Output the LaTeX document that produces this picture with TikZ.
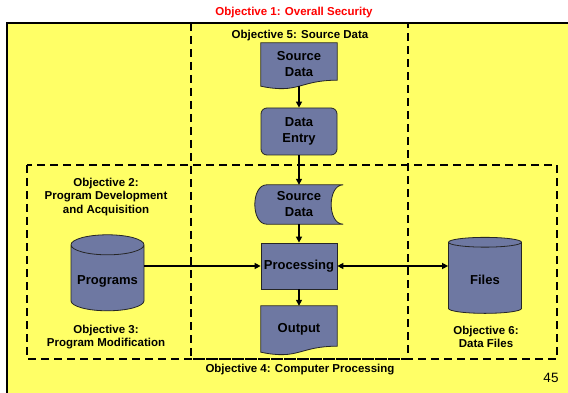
\documentclass[tikz,border=0pt]{standalone}
\usepackage{fontspec}
\setmainfont{Liberation Sans}
\usepackage{tikz}
\usetikzlibrary{shapes.geometric, calc, arrows.meta, positioning, backgrounds}
\usepackage{xcolor}
\definecolor{slideyellow}{RGB}{255,255,102}
\definecolor{boxblue}{RGB}{110,120,162}
\definecolor{titlered}{RGB}{255,0,0}

\begin{document}
\begin{tikzpicture}[x=1pt, y=-1pt,
    objtext/.style={font=\fontsize{11.5}{13.5}\selectfont\bfseries, align=center, inner sep=0pt},
    boxtext/.style={font=\fontsize{13}{16}\selectfont\bfseries, align=center, inner sep=0pt, minimum width=76pt},
    boxshape/.style={fill=boxblue, draw=black!85, line width=0.8pt},
    procbox/.style={boxtext, boxshape, minimum height=46pt},
    entrybox/.style={procbox, rounded corners=6pt, minimum height=47pt},
    docbox/.style={boxtext, minimum height=43pt},
    storebox/.style={boxtext, minimum width=88pt, minimum height=39pt},
    drum/.style={boxtext, boxshape, cylinder, shape border rotate=90, aspect=0.33, minimum width=73pt, minimum height=76pt, text height=13pt, text depth=0pt},
    zone/.style={dash pattern=on 8pt off 5pt, line width=2.6pt},
    flow/.style={line width=2pt, -{Triangle[length=6pt,width=6pt]}},
    twoway/.style={line width=2pt, {Triangle[length=6pt,width=6pt]}-{Triangle[length=6pt,width=6pt]}}
  ]
  \useasboundingbox (0,0) rectangle (568,393);

  % objective labels
  \node[objtext, text=titlered] (obj1) at (294,13) {Objective 1: Overall Security};
  \node[objtext] (obj5) at (300,36) {Objective 5: Source Data};
  \node[objtext] (obj2) at (106,197) {Objective 2:\\Program Development\\and Acquisition};
  \node[objtext] (obj3) at (106,337) {Objective 3:\\Program Modification};
  \node[objtext] (obj6) at (486,337) {Objective 6:\\Data Files};
  \node[objtext] (obj4) at (300,370) {Objective 4: Computer Processing};
  \node[font=\fontsize{13.5}{16}\selectfont, inner sep=0pt] (page) at (551,378) {45};

  % the flow down the middle
  \node[docbox] (src) at (299,64.5) {Source\\Data};
  \node[entrybox] (entry) at (299,131.5) {Data\\Entry};
  \node[storebox] (stored) at (299,204.5) {Source\\Data};
  \node[procbox] (proc) at (299,266) {Processing};
  \node[docbox, minimum height=46pt] (out) at (299,329) {Output};

  % programs and files on the sides
  \node[drum] (prog) at (107.5,278) {Programs};
  \node[drum] (files) at (485,278) {Files};

  \draw[flow] (src) -- (entry);
  \draw[flow] (entry) -- (stored);
  \draw[flow] (stored) -- (proc);
  \draw[flow] (proc) -- (out);
  \draw[flow] (prog.east |- proc.west) -- (proc.west);
  \draw[twoway] (proc.east) -- (files.west |- proc.east);

  \begin{scope}[on background layer]
    \fill[white] (0,0) rectangle (568,393);
    \draw[fill=slideyellow, line width=2pt] (7,23) rectangle (620,430);
    % dashed zones
    \draw[zone] (191,23) rectangle (408,359);
    \draw[zone] (27,165) rectangle (557,359);
    % document shapes with a wavy bottom
    \draw[boxshape] (src.north west) -- (src.north east) -- ($(src.south east)+(0,-6)$)
      .. controls ($(src.south)+(0,-6)$) and ($(src.south)+(0,8)$) .. (src.south west) -- cycle;
    \draw[boxshape] (out.north west) -- (out.north east) -- ($(out.south east)+(0,-6)$)
      .. controls ($(out.south)+(0,-6)$) and ($(out.south)+(0,8)$) .. (out.south west) -- cycle;
    % stored data shape
    \draw[boxshape] ($(stored.north west)+(12,0)$) -- (stored.north east)
      .. controls ($(stored.north east)+(-16,0)$) and ($(stored.south east)+(-16,0)$) .. (stored.south east)
      -- ($(stored.south west)+(12,0)$)
      .. controls ($(stored.south west)+(-4,0)$) and ($(stored.north west)+(-4,0)$) .. cycle;
  \end{scope}
\end{tikzpicture}
\end{document}
